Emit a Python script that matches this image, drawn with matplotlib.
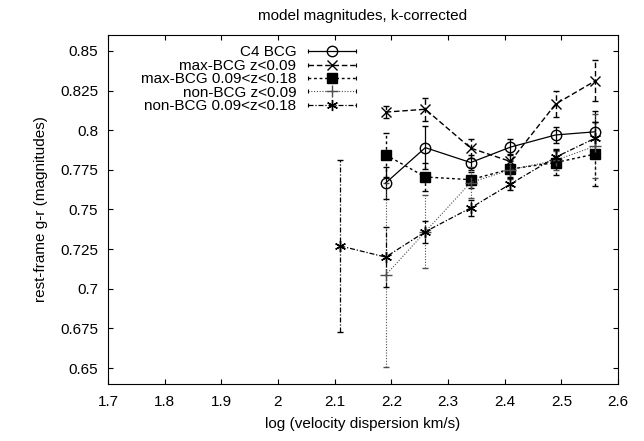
import matplotlib
matplotlib.use('Agg')
import matplotlib.pyplot as plt
from matplotlib.lines import Line2D
from matplotlib.legend_handler import HandlerLine2D
from matplotlib.ticker import FormatStrFormatter

plt.rcParams['font.family'] = ['Liberation Sans', 'DejaVu Sans']
plt.rcParams['font.size'] = 11

# data
x_c4 = [2.19, 2.26, 2.34, 2.41, 2.49, 2.56]
y_c4 = [0.7667, 0.789, 0.7796, 0.7893, 0.797, 0.799]
e_c4 = [0.010, 0.0135, 0.005, 0.005, 0.005, 0.013]

x_max1 = [2.19, 2.26, 2.34, 2.41, 2.49, 2.56]
y_max1 = [0.8114, 0.8132, 0.7887, 0.7803, 0.8165, 0.8311]
e_max1 = [0.004, 0.0073, 0.006, 0.005, 0.008, 0.013]

x_max2 = [2.19, 2.26, 2.34, 2.41, 2.49, 2.56]
y_max2 = [0.7845, 0.7705, 0.7688, 0.7755, 0.7796, 0.785]
e_max2 = [0.014, 0.009, 0.005, 0.005, 0.008, 0.020]

x_non1 = [2.19, 2.26, 2.34, 2.41, 2.49, 2.56]
y_non1 = [0.7086, 0.736, 0.767, 0.775, 0.781, 0.790]
e_non1 = [0.058, 0.023, 0.010, 0.006, 0.006, 0.020]

x_non2 = [2.11, 2.19, 2.26, 2.34, 2.41, 2.49, 2.56]
y_non2 = [0.727, 0.720, 0.736, 0.751, 0.766, 0.783, 0.795]
e_non2 = [0.054, 0.019, 0.007, 0.005, 0.004, 0.005, 0.010]

labels = ['C4 BCG', 'max-BCG z<0.09', 'max-BCG 0.09<z<0.18',
          'non-BCG z<0.09', 'non-BCG 0.09<z<0.18']

asterisk = (6, 2, 0)
series = [
    (x_c4, y_c4, e_c4, dict(marker='o', mfc='none', ms=7.5, ls='-', color='k', lw=0.9)),
    (x_max1, y_max1, e_max1, dict(marker='x', ms=7, ls=(0, (4, 2)), color='k', lw=1.0)),
    (x_max2, y_max2, e_max2, dict(marker='s', ms=6.5, ls=(0, (2, 2)), color='k', lw=1.0)),
    (x_non1, y_non1, e_non1, dict(marker='+', ms=8, ls=(0, (1, 1.5)), color='0.3', lw=0.8)),
    (x_non2, y_non2, e_non2, dict(marker=asterisk, ms=8, ls=(0, (4, 1.5, 1, 1.5)), color='k', lw=0.9)),
]


class CapHandler(HandlerLine2D):
    # gnuplot style key sample: line with small end caps
    def create_artists(self, legend, orig_handle, xdescent, ydescent,
                       width, height, fontsize, trans):
        arts = super().create_artists(legend, orig_handle, xdescent, ydescent,
                                      width, height, fontsize, trans)
        y = height / 2 - ydescent
        caps = Line2D([-xdescent, width - xdescent], [y, y], marker='|',
                      ls='none', ms=3.5, mew=0.8, color='k', transform=trans)
        return arts + [caps]


fig = plt.figure(figsize=(6.44, 4.41), dpi=100)
ax = fig.add_axes([0.1677, 0.1293, 0.7919, 0.7913])

handles = []
for (xs, ys, es, st), lab in zip(series, labels):
    eb = ax.errorbar(xs, ys, yerr=es, capsize=2, elinewidth=st['lw'],
                     ecolor=st['color'], mec=st['color'], mfc=st.get('mfc', st['color']),
                     **{k: v for k, v in st.items() if k not in ('mfc',)})
    eb[2][0].set_linestyle(st['ls'])
    handles.append(Line2D([], [], marker=st['marker'], ms=st['ms'], ls=st['ls'],
                          color=st['color'], lw=st['lw'],
                          mfc=st.get('mfc', st['color']), mec=st['color']))

ax.legend(handles, labels, loc='upper right', bbox_to_anchor=(0.486, 0.970),
          markerfirst=False, frameon=False, handlelength=3.1, handletextpad=0.8,
          labelspacing=-0.04, borderaxespad=0.0, borderpad=0.0, fontsize=11,
          handler_map={Line2D: CapHandler()})

ax.set_xlim(1.7, 2.6)
ax.set_ylim(0.64, 0.86)
ax.set_xticks([1.7, 1.8, 1.9, 2.0, 2.1, 2.2, 2.3, 2.4, 2.5, 2.6])
ax.set_yticks([0.65, 0.675, 0.7, 0.725, 0.75, 0.775, 0.8, 0.825, 0.85])
ax.xaxis.set_major_formatter(FormatStrFormatter('%g'))
ax.yaxis.set_major_formatter(FormatStrFormatter('%g'))
ax.tick_params(direction='in', top=True, right=True, length=3.5, width=0.8)
ax.tick_params(axis='x', pad=8)
ax.tick_params(axis='y', pad=7)

ax.set_title('model magnitudes, k-corrected', fontsize=11, pad=11)
ax.set_xlabel('log (velocity dispersion km/s)', labelpad=6)
ax.set_ylabel('rest-frame g-r (magnitudes)', labelpad=9)

fig.savefig('out.png', dpi=100)
